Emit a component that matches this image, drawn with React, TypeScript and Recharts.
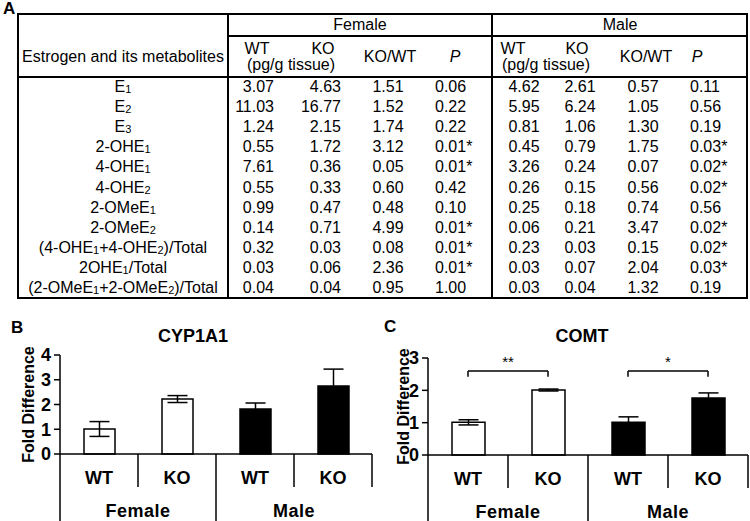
import React from 'react';
import { BarChart, Bar, XAxis, YAxis, ErrorBar, Cell, ReferenceLine } from 'recharts';

// ---------- Table data (panel A) ----------
const metaboliteLabels = ['E_1', 'E_2', 'E_3', '2-OHE_1', '4-OHE_1', '4-OHE_2', '2-OMeE_1', '2-OMeE_2', '(4-OHE_1+4-OHE_2)/Total', '2OHE_1/Total', '(2-OMeE_1+2-OMeE_2)/Total'];
const femaleWT = ['3.07', '11.03', '1.24', '0.55', '7.61', '0.55', '0.99', '0.14', '0.32', '0.03', '0.04'];
const femaleKO = ['4.63', '16.77', '2.15', '1.72', '0.36', '0.33', '0.47', '0.71', '0.03', '0.06', '0.04'];
const femaleRatio = ['1.51', '1.52', '1.74', '3.12', '0.05', '0.60', '0.48', '4.99', '0.08', '2.36', '0.95'];
const femaleP = ['0.06', '0.22', '0.22', '0.01*', '0.01*', '0.42', '0.10', '0.01*', '0.01*', '0.01*', '1.00'];
const maleWT = ['4.62', '5.95', '0.81', '0.45', '3.26', '0.26', '0.25', '0.06', '0.23', '0.03', '0.03'];
const maleKO = ['2.61', '6.24', '1.06', '0.79', '0.24', '0.15', '0.18', '0.21', '0.03', '0.07', '0.04'];
const maleRatio = ['0.57', '1.05', '1.30', '1.75', '0.07', '0.56', '0.74', '3.47', '0.15', '2.04', '1.32'];
const maleP = ['0.11', '0.56', '0.19', '0.03*', '0.02*', '0.02*', '0.56', '0.02*', '0.02*', '0.03*', '0.19'];

// ---------- Bar chart data (panels B, C) ----------
const barKeys = ['F-WT', 'F-KO', 'M-WT', 'M-KO'];
const groupLabels = ['WT', 'KO', 'WT', 'KO'];
const sexLabels = ['Female', 'Female', 'Male', 'Male'];
const barFills = ['#ffffff', '#ffffff', '#000000', '#000000'];
const cypMean = [1.01, 2.22, 1.82, 2.75];
const cypErr = [0.3, 0.14, 0.24, 0.68];
const comtMean = [1.01, 2.01, 1.01, 1.76];
const comtErr = [0.08, 0.03, 0.17, 0.16];
const cypTicks = [0, 1, 2, 3, 4];
const comtTicks = [0, 1, 2, 3];
const comtBrackets = [
  { from: 'F-WT', to: 'F-KO', y: 2.6, drop: 2.42, label: '**' },
  { from: 'M-WT', to: 'M-KO', y: 2.6, drop: 2.42, label: '*' },
];

const cypData = barKeys.map((k, i) => ({ key: k, value: cypMean[i], err: cypErr[i] }));
const comtData = barKeys.map((k, i) => ({ key: k, value: comtMean[i], err: comtErr[i] }));

const FONT = '"Liberation Sans", Arial, Helvetica, sans-serif';

function renderSub(s: string) {
  const parts = s.split(/_(\d)/);
  return parts.map((p, i) =>
    i % 2 === 1 ? (
      <span key={i} style={{ fontSize: 11, verticalAlign: '-1px' }}>{p}</span>
    ) : (
      <React.Fragment key={i}>{p}</React.Fragment>
    )
  );
}

const cols = [
  { vals: femaleWT, left: 224, width: 50, align: 'right' },
  { vals: femaleKO, left: 290, width: 51, align: 'right' },
  { vals: femaleRatio, left: 360, width: 56, align: 'center' },
  { vals: femaleP, left: 435, width: 52, align: 'left' },
  { vals: maleWT, left: 494, width: 60, align: 'center' },
  { vals: maleKO, left: 550, width: 60, align: 'center' },
  { vals: maleRatio, left: 613, width: 60, align: 'center' },
  { vals: maleP, left: 690, width: 52, align: 'left' },
];

const ROW_TOP = 77;
const ROW_H = 20.1;

function T({ x, y, w, h = 20, align = 'center', children, style }: any) {
  return (
    <div
      style={{
        position: 'absolute',
        left: x,
        top: y - h / 2,
        width: w,
        height: h,
        lineHeight: h + 'px',
        textAlign: align,
        fontSize: 16,
        whiteSpace: 'nowrap',
        ...style,
      }}
    >
      {children}
    </div>
  );
}

function Table() {
  const line = (l: number, t: number, w: number, h: number) => (
    <div style={{ position: 'absolute', left: l, top: t, width: w, height: h, background: '#000' }} />
  );
  return (
    <>
      <div style={{ position: 'absolute', left: 17, top: 13, width: 731, height: 286, border: '2px solid #000', boxSizing: 'border-box' }} />
      {line(227, 13, 2, 286)}
      {line(491, 13, 2, 286)}
      {line(228, 35, 520, 1.5)}
      {line(17, 76, 731, 2)}
      <T x={228} y={25} w={264}>Female</T>
      <T x={492} y={25} w={256}>Male</T>
      <T x={18} y={57} w={210}>Estrogen and its metabolites</T>
      <T x={237} y={49} h={14} w={40}>WT</T>
      <T x={303} y={49} h={14} w={40}>KO</T>
      <T x={241} y={64} h={15} w={100}>(pg/g tissue)</T>
      <T x={360} y={57} w={60}>KO/WT</T>
      <T x={435} y={57} w={40} style={{ fontStyle: 'italic' }}>P</T>
      <T x={493} y={49} h={14} w={40}>WT</T>
      <T x={557} y={49} h={14} w={40}>KO</T>
      <T x={496} y={64} h={15} w={100}>(pg/g tissue)</T>
      <T x={616} y={57} w={60}>KO/WT</T>
      <T x={677} y={57} w={40} style={{ fontStyle: 'italic' }}>P</T>
      {metaboliteLabels.map((lab, i) => (
        <T key={'l' + i} x={18} y={ROW_TOP + ROW_H * (i + 0.5)} w={210}>{renderSub(lab)}</T>
      ))}
      {cols.map((c, ci) =>
        c.vals.map((v, i) => (
          <T key={ci + '-' + i} x={c.left} y={ROW_TOP + ROW_H * (i + 0.5)} w={c.width} align={c.align}>{v}</T>
        ))
      )}
    </>
  );
}

function makeTick(axisH: number) {
  return (props: any) => {
    const { x, y, payload, index } = props;
    const half = payload && payload.offset != null ? payload.offset : 0;
    const left = x - half;
    const isGroupStart = index % 2 === 0;
    return (
      <g>
        <line x1={left} y1={y} x2={left} y2={isGroupStart ? y + axisH : y + 33} stroke="#000" strokeWidth={1.5} />
        {index === 3 && <line x1={x + half} y1={y} x2={x + half} y2={y + 33} stroke="#000" strokeWidth={1.5} />}
        <text x={x} y={y + 30} textAnchor="middle" fontSize={18} fontWeight="bold" fill="#000" fontFamily={FONT}>
          {groupLabels[index]}
        </text>
        {isGroupStart && (
          <text x={x + half} y={y + 63} textAnchor="middle" fontSize={18} fontWeight="bold" fill="#000" fontFamily={FONT} letterSpacing={0.5}>
            {sexLabels[index]}
          </text>
        )}
      </g>
    );
  };
}

const yLabel = (props: any) => {
  const vb = props.viewBox || { x: 0, y: 0, width: 0, height: 0 };
  const cx = vb.x + 28;
  const cy = vb.y + vb.height / 2;
  return (
    <text x={cx} y={cy} transform={`rotate(-90, ${cx}, ${cy})`} textAnchor="middle" dominantBaseline="central" fontSize={16} fontWeight="bold" fill="#000" fontFamily={FONT}>
      Fold Difference
    </text>
  );
};

const tickStyle = { fontSize: 18, fontWeight: 'bold', fill: '#000', fontFamily: FONT };

function CypChart() {
  return (
    <BarChart width={380} height={181} data={cypData} margin={{ top: 15, right: 8, bottom: 0, left: 0 }} barSize={31}>
      <XAxis dataKey="key" height={67} interval={0} tickSize={0} tickMargin={0} tickLine={false} axisLine={{ stroke: '#000', strokeWidth: 1.5 }} tick={makeTick(67)} />
      <YAxis width={60} domain={[0, 4]} ticks={cypTicks} interval={0} tickSize={6} tickMargin={3} tick={tickStyle} tickLine={{ stroke: '#000', strokeWidth: 1.5 }} axisLine={{ stroke: '#000', strokeWidth: 1.5 }} label={{ content: yLabel }} />
      <Bar dataKey="value" isAnimationActive={false} stroke="#000" strokeWidth={1.5}>
        {cypData.map((d, i) => (
          <Cell key={d.key} fill={barFills[i]} />
        ))}
        <ErrorBar dataKey="err" width={10} stroke="#000" strokeWidth={1.5} direction="y" />
      </Bar>
    </BarChart>
  );
}

function ComtChart() {
  return (
    <BarChart width={375} height={181} data={comtData} margin={{ top: 18, right: 2, bottom: 0, left: 0 }} barSize={33}>
      <XAxis dataKey="key" height={66} interval={0} tickSize={0} tickMargin={0} tickLine={false} axisLine={{ stroke: '#000', strokeWidth: 1.5 }} tick={makeTick(66)} />
      <YAxis width={53} domain={[0, 3]} ticks={comtTicks} interval={0} tickSize={6} tickMargin={3} tick={tickStyle} tickLine={{ stroke: '#000', strokeWidth: 1.5 }} axisLine={{ stroke: '#000', strokeWidth: 1.5 }} label={{ content: yLabel }} />
      <Bar dataKey="value" isAnimationActive={false} stroke="#000" strokeWidth={1.5}>
        {comtData.map((d, i) => (
          <Cell key={d.key} fill={barFills[i]} />
        ))}
        <ErrorBar dataKey="err" width={10} stroke="#000" strokeWidth={1.5} direction="y" />
      </Bar>
      {comtBrackets.map((b) => (
        <ReferenceLine
          key={b.from + 'h'}
          segment={[{ x: b.from, y: b.y }, { x: b.to, y: b.y }]}
          stroke="#000"
          strokeWidth={1.5}
          ifOverflow="visible"
          label={{ value: b.label, position: 'top', offset: 4, fontSize: 15, fill: '#000', fontFamily: FONT }}
        />
      ))}
      {comtBrackets.map((b) => (
        <ReferenceLine key={b.from + 'l'} segment={[{ x: b.from, y: b.y }, { x: b.from, y: b.drop }]} stroke="#000" strokeWidth={1.5} ifOverflow="visible" />
      ))}
      {comtBrackets.map((b) => (
        <ReferenceLine key={b.from + 'r'} segment={[{ x: b.to, y: b.y }, { x: b.to, y: b.drop }]} stroke="#000" strokeWidth={1.5} ifOverflow="visible" />
      ))}
    </BarChart>
  );
}

const panelLabel = { position: 'absolute' as const, fontSize: 17, fontWeight: 'bold' as const, lineHeight: '18px' };

export default function App() {
  return (
    <div style={{ position: 'absolute', left: 0, top: 0, width: 750, height: 521, background: '#fff', fontFamily: FONT, color: '#000', overflow: 'hidden' }}>
      <div style={{ ...panelLabel, left: 3, top: 0 }}>A</div>
      <Table />
      <div style={{ ...panelLabel, left: 11, top: 319 }}>B</div>
      <div style={{ ...panelLabel, left: 384, top: 318 }}>C</div>
      <div style={{ position: 'absolute', left: 143, top: 326, width: 100, textAlign: 'center', fontSize: 18, fontWeight: 'bold', lineHeight: '20px' }}>CYP1A1</div>
      <div style={{ position: 'absolute', left: 532, top: 326, width: 100, textAlign: 'center', fontSize: 18, fontWeight: 'bold', lineHeight: '20px' }}>COMT</div>
      <div style={{ position: 'absolute', left: 0, top: 340 }}>
        <CypChart />
      </div>
      <div style={{ position: 'absolute', left: 375, top: 340 }}>
        <ComtChart />
      </div>
    </div>
  );
}
